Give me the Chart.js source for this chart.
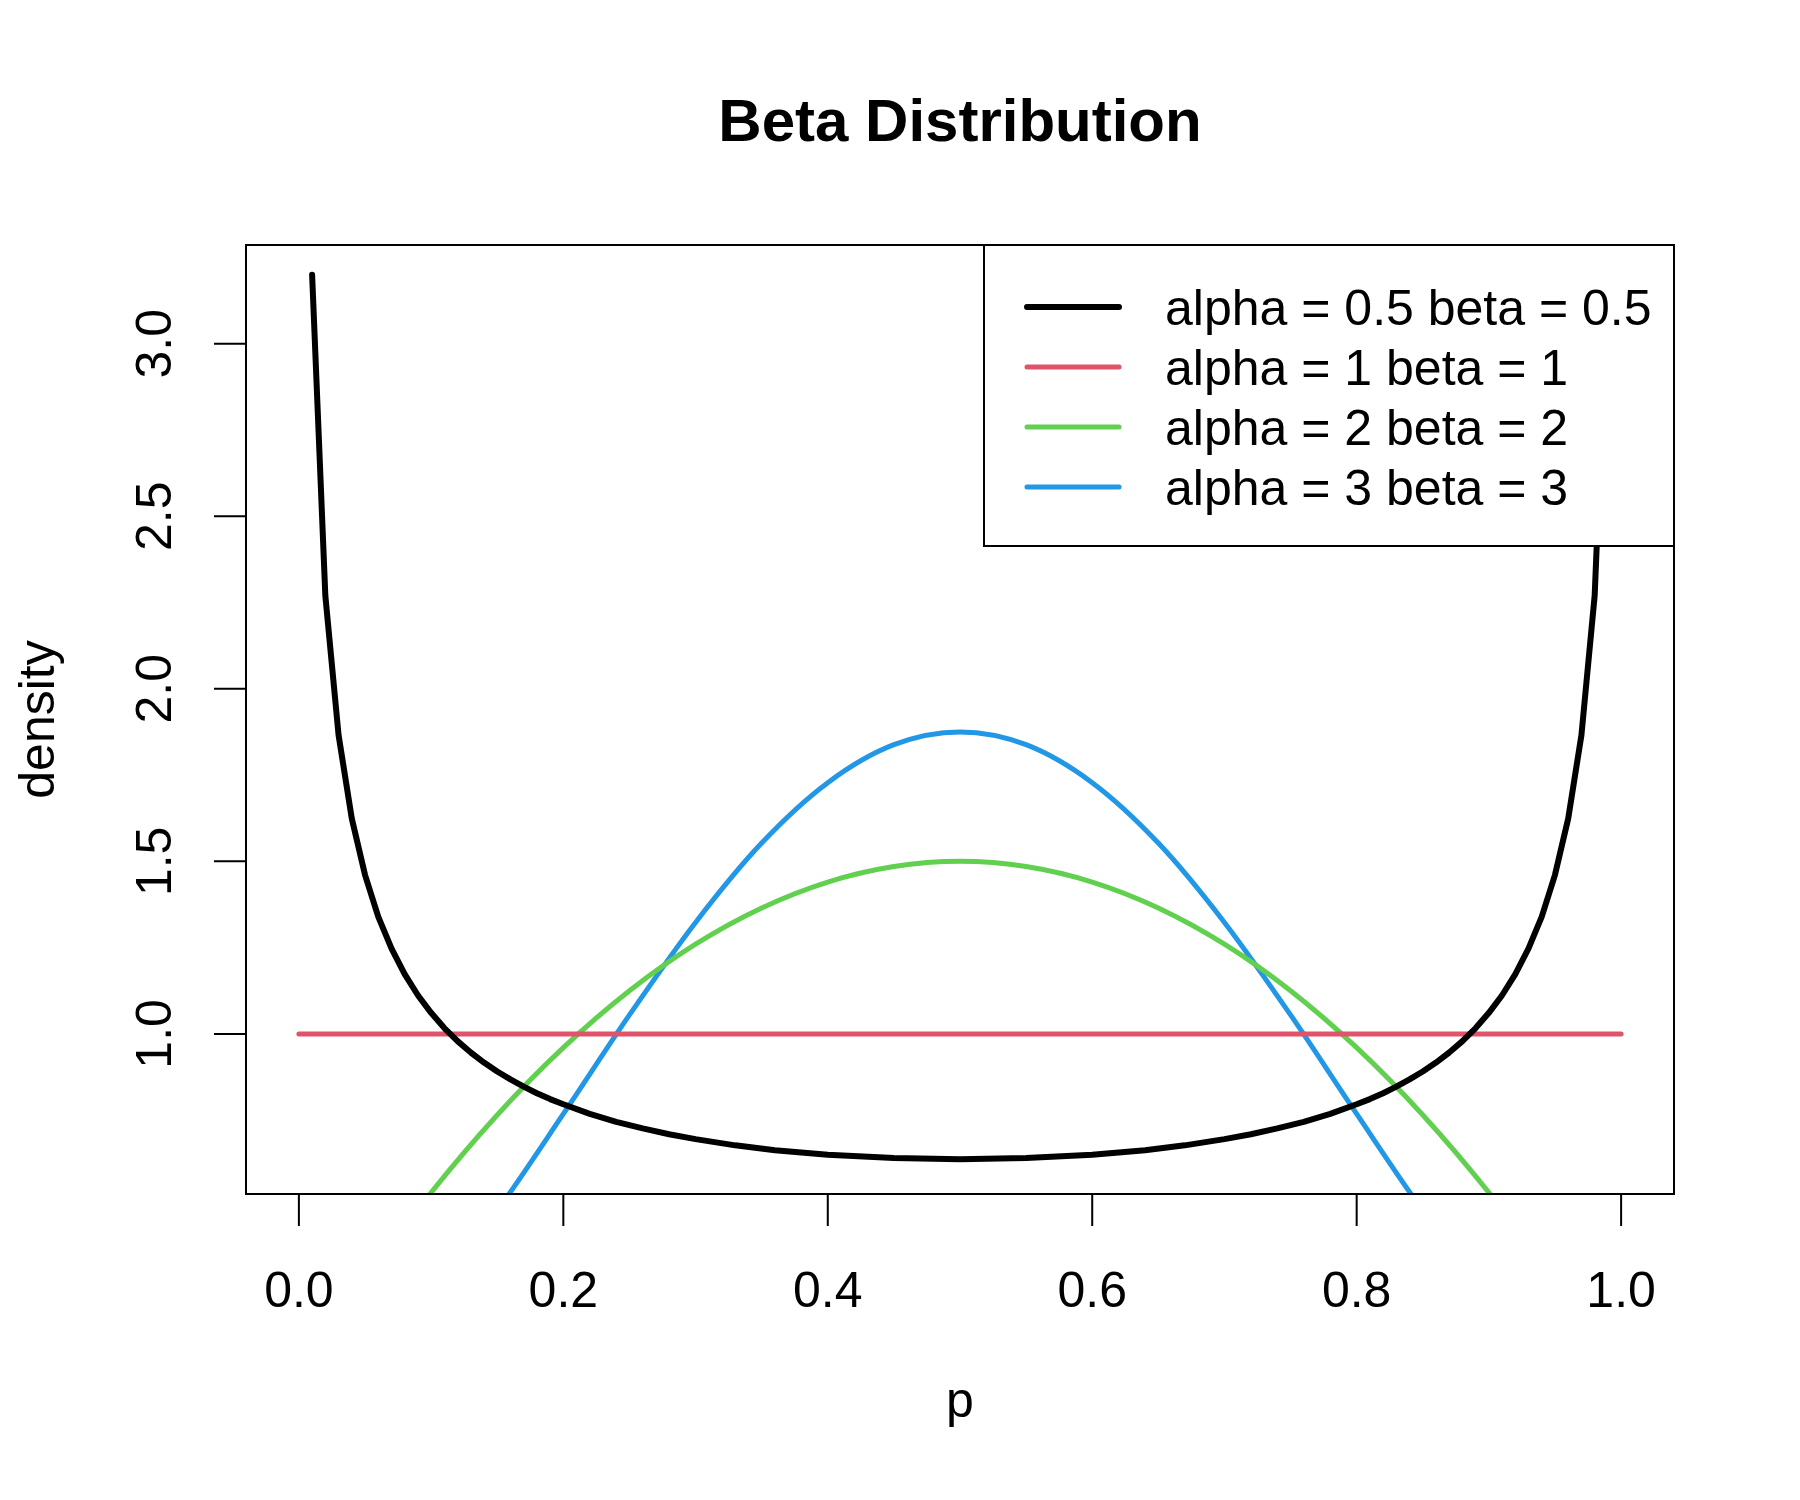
<!DOCTYPE html>
<html>
<head>
<meta charset="utf-8">
<script src="https://cdn.jsdelivr.net/npm/chart.js@4/dist/chart.umd.min.js"></script>
<style>
  body { margin: 0; background: #fff; }
  canvas { display: block; }
</style>
</head>
<body>
<canvas id="beta" width="1800" height="1500"></canvas>
<script>
// values
var xTicks = [0, 0.2, 0.4, 0.6, 0.8, 1.0];
var yTicks = [1.0, 1.5, 2.0, 2.5, 3.0];

var pHalf = [0.01, 0.02, 0.03, 0.04, 0.05, 0.06, 0.07, 0.08, 0.09, 0.10,
             0.11, 0.12, 0.13, 0.14, 0.15, 0.16, 0.17, 0.18, 0.19, 0.20,
             0.22, 0.24, 0.26, 0.28, 0.30, 0.33, 0.36, 0.40, 0.45, 0.50,
             0.55, 0.60, 0.64, 0.67, 0.70, 0.72, 0.74, 0.76, 0.78, 0.80,
             0.81, 0.82, 0.83, 0.84, 0.85, 0.86, 0.87, 0.88, 0.89, 0.90,
             0.91, 0.92, 0.93, 0.94, 0.95, 0.96, 0.97, 0.98, 0.99];
var densHalf = [3.20, 2.27, 1.866, 1.624, 1.461, 1.340, 1.248, 1.173, 1.112, 1.061,
                1.017, 0.979, 0.946, 0.917, 0.891, 0.868, 0.847, 0.828, 0.811, 0.796,
                0.768, 0.745, 0.726, 0.709, 0.695, 0.677, 0.663, 0.650, 0.640, 0.637,
                0.640, 0.650, 0.663, 0.677, 0.695, 0.709, 0.726, 0.745, 0.768, 0.796,
                0.811, 0.828, 0.847, 0.868, 0.891, 0.917, 0.946, 0.979, 1.017, 1.061,
                1.112, 1.173, 1.248, 1.340, 1.461, 1.624, 1.866, 2.27, 3.20];

var pOne = [0, 1];
var densOne = [1, 1];

var pTwo = [0.05, 0.10, 0.15, 0.20, 0.25, 0.30, 0.35, 0.40, 0.45, 0.50,
            0.55, 0.60, 0.65, 0.70, 0.75, 0.80, 0.85, 0.90, 0.95];
var densTwo = [0.285, 0.54, 0.765, 0.96, 1.125, 1.26, 1.365, 1.44, 1.485, 1.50,
               1.485, 1.44, 1.365, 1.26, 1.125, 0.96, 0.765, 0.54, 0.285];

var pThree = [0.10, 0.15, 0.20, 0.25, 0.30, 0.35, 0.40, 0.45, 0.50,
              0.55, 0.60, 0.65, 0.70, 0.75, 0.80, 0.85, 0.90];
var densThree = [0.243, 0.488, 0.768, 1.055, 1.323, 1.553, 1.728, 1.838, 1.875,
                 1.838, 1.728, 1.553, 1.323, 1.055, 0.768, 0.488, 0.243];

var seriesNames = ["alpha = 0.5 beta = 0.5", "alpha = 1 beta = 1", "alpha = 2 beta = 2", "alpha = 3 beta = 3"];
var seriesColors = ['#000000', '#DF536B', '#61D04F', '#2297E6'];
var seriesWidths = [6, 5, 5, 5];

function pts(xs, ys) {
    return xs.map(function (v, i) { return {x: v, y: ys[i]}; });
}

var FONT = '"Liberation Sans", Arial, Helvetica, sans-serif';
Chart.defaults.font.family = FONT;
Chart.defaults.color = '#000';

// R style box, outward ticks and the legend
var rFrame = {
    id: 'rFrame',
    afterDraw: function (chart) {
        var ctx = chart.ctx, a = chart.chartArea;
        var xs = chart.scales.x, ys = chart.scales.y;
        ctx.save();
        ctx.strokeStyle = '#000';
        ctx.lineWidth = 2;
        ctx.strokeRect(a.left, a.top, a.right - a.left, a.bottom - a.top);
        ctx.beginPath();
        xTicks.forEach(function (v) {
            var px = xs.getPixelForValue(v);
            ctx.moveTo(px, a.bottom);
            ctx.lineTo(px, a.bottom + 32);
        });
        yTicks.forEach(function (v) {
            var py = ys.getPixelForValue(v);
            ctx.moveTo(a.left, py);
            ctx.lineTo(a.left - 32, py);
        });
        ctx.stroke();

        // legend box
        var lx = 984, ly = a.top, lw = a.right - 984, lh = 301;
        ctx.fillStyle = '#fff';
        ctx.fillRect(lx, ly, lw, lh);
        ctx.strokeRect(lx, ly, lw, lh);
        ctx.font = '50px ' + FONT;
        ctx.textAlign = 'left';
        ctx.textBaseline = 'alphabetic';
        ctx.lineCap = 'round';
        seriesNames.forEach(function (name, i) {
            var ry = 307 + i * 60;
            ctx.strokeStyle = seriesColors[i];
            ctx.lineWidth = seriesWidths[i];
            ctx.beginPath();
            ctx.moveTo(1027, ry);
            ctx.lineTo(1119, ry);
            ctx.stroke();
            ctx.fillStyle = '#000';
            ctx.fillText(name, 1165, ry + 18);
        });
        ctx.restore();
    }
};

function lineSet(i, data, smooth) {
    var ds = {
        label: seriesNames[i],
        data: data,
        borderColor: seriesColors[i],
        backgroundColor: seriesColors[i],
        borderWidth: seriesWidths[i],
        borderCapStyle: 'round',
        borderJoinStyle: 'round',
        pointRadius: 0,
        fill: false,
        tension: 0
    };
    if (smooth) ds.cubicInterpolationMode = 'monotone';
    return ds;
}

new Chart(document.getElementById('beta'), {
    type: 'line',
    data: {
        datasets: [
            lineSet(0, pts(pHalf, densHalf), false),
            lineSet(1, pts(pOne, densOne), false),
            lineSet(2, pts(pTwo, densTwo), true),
            lineSet(3, pts(pThree, densThree), true)
        ]
    },
    options: {
        responsive: false,
        animation: false,
        layout: {padding: {left: 0, right: 126, top: 0, bottom: 0}},
        plugins: {
            legend: {display: false},
            tooltip: {enabled: false},
            title: {
                display: true,
                text: 'Beta Distribution',
                fullSize: false,
                color: '#000',
                font: {size: 60, weight: 'bold', family: FONT},
                padding: {top: 88, bottom: 85}
            }
        },
        scales: {
            x: {
                type: 'linear',
                min: -0.04,
                max: 1.04,
                afterBuildTicks: function (s) { s.ticks = xTicks.map(function (v) { return {value: v}; }); },
                afterFit: function (s) { s.height = 306; },
                grid: {display: false},
                border: {display: false},
                ticks: {
                    autoSkip: false, minRotation: 0, maxRotation: 0, padding: 61,
                    color: '#000', font: {size: 50},
                    callback: function (v) { return Number(v).toFixed(1); }
                },
                title: {display: true, text: 'p', color: '#000', font: {size: 50}, padding: {top: 0, bottom: 67}}
            },
            y: {
                type: 'linear',
                min: 0.536,
                max: 3.286,
                afterBuildTicks: function (s) { s.ticks = yTicks.map(function (v) { return {value: v}; }); },
                afterFit: function (s) { s.width = 246; },
                grid: {display: false},
                border: {display: false},
                ticks: {
                    autoSkip: false, minRotation: 90, maxRotation: 90, crossAlign: 'center', padding: 46,
                    color: '#000', font: {size: 50},
                    callback: function (v) { return Number(v).toFixed(1); }
                },
                title: {display: true, text: 'density', color: '#000', font: {size: 50}, padding: {top: 10, bottom: 0}}
            }
        }
    },
    plugins: [rFrame]
});
</script>
</body>
</html>
